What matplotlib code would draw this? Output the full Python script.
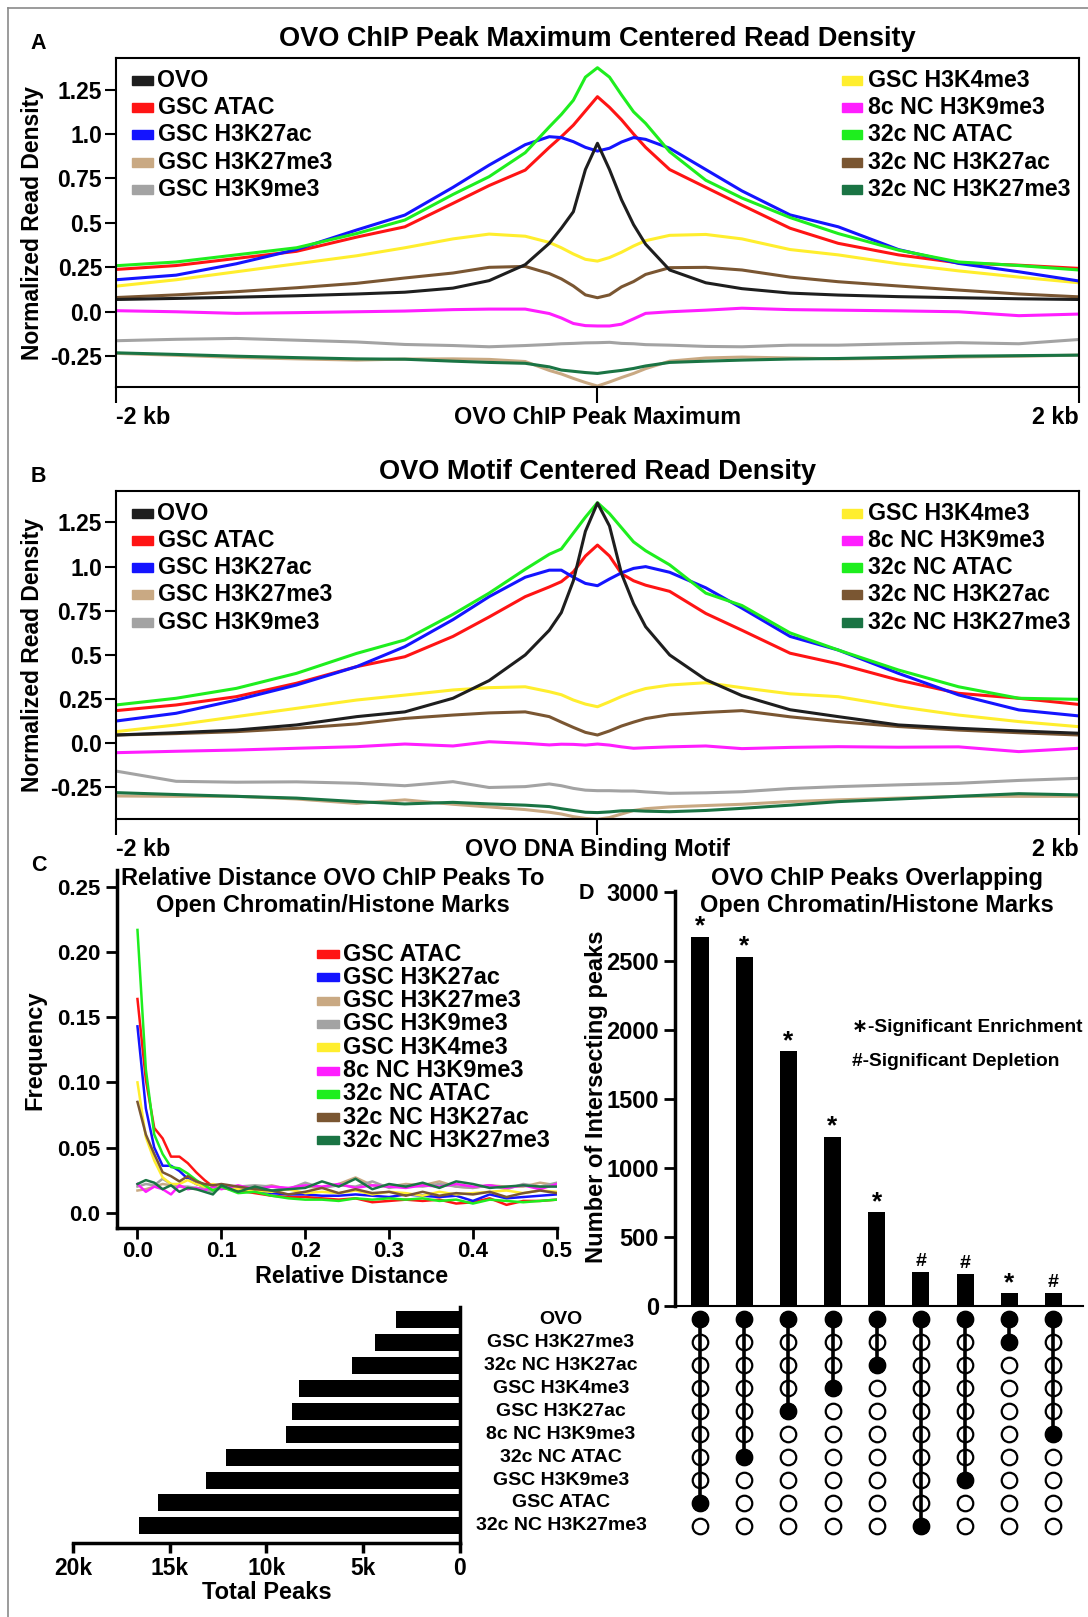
import matplotlib
matplotlib.use('Agg')
import matplotlib.pyplot as plt
from matplotlib.patches import Rectangle
from matplotlib.lines import Line2D
from matplotlib.transforms import blended_transform_factory

plt.rcParams['font.family'] = ['Liberation Sans', 'DejaVu Sans']
plt.rcParams['font.weight'] = 'bold'

W, H = 1088, 1617

COLORS = {
    'OVO': '#1e1e1e',
    'GSC ATAC': '#ff1414',
    'GSC H3K27ac': '#1414ff',
    'GSC H3K27me3': '#c9a983',
    'GSC H3K9me3': '#a3a3a3',
    'GSC H3K4me3': '#ffee2e',
    '8c NC H3K9me3': '#ff1eff',
    '32c NC ATAC': '#1eee1e',
    '32c NC H3K27ac': '#7a5632',
    '32c NC H3K27me3': '#1a7444',
}

# distance from centre, kb
dist_kb = [-2, -1.75, -1.5, -1.25, -1, -0.8, -0.6, -0.45, -0.3, -0.2, -0.15, -0.1, -0.05, 0,
           0.05, 0.1, 0.15, 0.2, 0.3, 0.45, 0.6, 0.8, 1, 1.25, 1.5, 1.75, 2]

# panel A: OVO ChIP peak maximum centred
peak_density = {
    'OVO': [0.069, 0.075, 0.082, 0.09, 0.10, 0.11, 0.133, 0.175, 0.265, 0.385, 0.47, 0.563, 0.80, 0.948,
            0.80, 0.63, 0.49, 0.38, 0.235, 0.163, 0.13, 0.105, 0.094, 0.085, 0.079, 0.073, 0.069],
    'GSC ATAC': [0.238, 0.26, 0.30, 0.34, 0.42, 0.478, 0.61, 0.71, 0.797, 0.925, 0.985, 1.05, 1.13, 1.21,
                 1.15, 1.08, 1.0, 0.925, 0.80, 0.70, 0.60, 0.47, 0.385, 0.32, 0.275, 0.262, 0.244],
    'GSC H3K27ac': [0.18, 0.206, 0.27, 0.35, 0.46, 0.544, 0.70, 0.825, 0.94, 0.985, 0.98, 0.957, 0.925, 0.904,
                    0.92, 0.955, 0.98, 0.97, 0.92, 0.80, 0.68, 0.545, 0.478, 0.35, 0.272, 0.225, 0.173],
    'GSC H3K27me3': [-0.234, -0.245, -0.257, -0.265, -0.272, -0.266, -0.265, -0.268, -0.28, -0.33, -0.35, -0.375,
                     -0.398, -0.418, -0.395, -0.37, -0.347, -0.32, -0.278, -0.26, -0.255, -0.26, -0.265, -0.262,
                     -0.255, -0.25, -0.244],
    'GSC H3K9me3': [-0.163, -0.155, -0.15, -0.16, -0.17, -0.184, -0.19, -0.197, -0.19, -0.184, -0.18, -0.178,
                    -0.175, -0.174, -0.172, -0.178, -0.18, -0.185, -0.188, -0.195, -0.197, -0.188, -0.188, -0.18,
                    -0.174, -0.18, -0.156],
    'GSC H3K4me3': [0.144, 0.18, 0.225, 0.27, 0.315, 0.36, 0.41, 0.437, 0.425, 0.39, 0.36, 0.325, 0.295, 0.285,
                    0.305, 0.335, 0.37, 0.40, 0.43, 0.435, 0.41, 0.35, 0.32, 0.27, 0.23, 0.195, 0.163],
    '8c NC H3K9me3': [0.006, 0.0, -0.009, -0.005, 0.0, 0.004, 0.012, 0.015, 0.015, -0.01, -0.035, -0.066, -0.078,
                      -0.08, -0.08, -0.07, -0.04, -0.009, 0.0, 0.009, 0.02, 0.012, 0.009, 0.005, 0.0, -0.022, -0.013],
    '32c NC ATAC': [0.259, 0.28, 0.32, 0.36, 0.44, 0.516, 0.66, 0.76, 0.895, 1.04, 1.11, 1.19, 1.32, 1.373,
                    1.32, 1.22, 1.125, 1.06, 0.90, 0.74, 0.64, 0.53, 0.44, 0.347, 0.28, 0.26, 0.235],
    '32c NC H3K27ac': [0.08, 0.095, 0.113, 0.135, 0.16, 0.19, 0.218, 0.25, 0.255, 0.215, 0.185, 0.145, 0.095,
                       0.079, 0.095, 0.14, 0.17, 0.21, 0.248, 0.25, 0.235, 0.195, 0.169, 0.145, 0.122, 0.10, 0.084],
    '32c NC H3K27me3': [-0.231, -0.24, -0.25, -0.258, -0.265, -0.267, -0.278, -0.285, -0.29, -0.31, -0.328, -0.335,
                        -0.342, -0.347, -0.338, -0.33, -0.319, -0.305, -0.285, -0.278, -0.272, -0.266, -0.263,
                        -0.257, -0.25, -0.247, -0.244],
}

# panel B: OVO motif centred
motif_density = {
    'OVO': [0.047, 0.06, 0.075, 0.104, 0.151, 0.178, 0.255, 0.355, 0.50, 0.64, 0.74, 0.92, 1.20, 1.36,
            1.23, 0.96, 0.79, 0.66, 0.50, 0.36, 0.27, 0.19, 0.151, 0.104, 0.085, 0.07, 0.057],
    'GSC ATAC': [0.185, 0.217, 0.264, 0.34, 0.434, 0.49, 0.605, 0.715, 0.83, 0.885, 0.915, 0.97, 1.06, 1.122,
                 1.06, 0.96, 0.92, 0.895, 0.86, 0.735, 0.64, 0.51, 0.45, 0.358, 0.283, 0.255, 0.22],
    'GSC H3K27ac': [0.126, 0.17, 0.245, 0.33, 0.434, 0.547, 0.70, 0.83, 0.94, 0.98, 0.98, 0.94, 0.905, 0.892,
                    0.93, 0.965, 0.99, 1.0, 0.968, 0.88, 0.765, 0.605, 0.528, 0.396, 0.274, 0.189, 0.155],
    'GSC H3K27me3': [-0.298, -0.30, -0.30, -0.315, -0.34, -0.32, -0.345, -0.36, -0.375, -0.39, -0.40, -0.415,
                     -0.425, -0.43, -0.42, -0.40, -0.38, -0.37, -0.36, -0.352, -0.345, -0.33, -0.32, -0.31,
                     -0.30, -0.30, -0.30],
    'GSC H3K9me3': [-0.157, -0.215, -0.22, -0.218, -0.226, -0.24, -0.217, -0.25, -0.245, -0.23, -0.24, -0.255,
                    -0.265, -0.268, -0.268, -0.27, -0.27, -0.275, -0.283, -0.28, -0.274, -0.256, -0.245, -0.235,
                    -0.226, -0.21, -0.198],
    'GSC H3K4me3': [0.066, 0.104, 0.151, 0.198, 0.245, 0.273, 0.302, 0.315, 0.32, 0.292, 0.275, 0.245, 0.222,
                    0.207, 0.235, 0.265, 0.29, 0.31, 0.33, 0.343, 0.315, 0.28, 0.264, 0.208, 0.16, 0.123, 0.094],
    '8c NC H3K9me3': [-0.053, -0.045, -0.038, -0.028, -0.019, -0.004, -0.015, 0.009, 0.0, -0.009, -0.005, -0.006,
                      -0.01, -0.004, -0.01, -0.02, -0.028, -0.025, -0.02, -0.015, -0.03, -0.023, -0.019, -0.022,
                      -0.02, -0.047, -0.028],
    '32c NC ATAC': [0.217, 0.255, 0.311, 0.396, 0.509, 0.585, 0.73, 0.85, 0.985, 1.07, 1.10, 1.19, 1.28, 1.362,
                    1.30, 1.22, 1.14, 1.09, 1.01, 0.85, 0.78, 0.625, 0.528, 0.415, 0.32, 0.255, 0.249],
    '32c NC H3K27ac': [0.047, 0.055, 0.066, 0.085, 0.11, 0.141, 0.16, 0.172, 0.178, 0.151, 0.12, 0.09, 0.062,
                       0.047, 0.07, 0.098, 0.12, 0.14, 0.162, 0.175, 0.185, 0.15, 0.123, 0.095, 0.075, 0.06, 0.047],
    '32c NC H3K27me3': [-0.279, -0.29, -0.30, -0.31, -0.33, -0.343, -0.334, -0.343, -0.35, -0.358, -0.37, -0.38,
                        -0.39, -0.392, -0.388, -0.382, -0.381, -0.384, -0.387, -0.38, -0.368, -0.35, -0.33,
                        -0.315, -0.30, -0.285, -0.292],
}

density_ticks = [-0.25, 0.0, 0.25, 0.5, 0.75, 1.0, 1.25]
density_tick_labels = ['-0.25', '0.0', '0.25', '0.5', '0.75', '1.0', '1.25']
legend_left = ['OVO', 'GSC ATAC', 'GSC H3K27ac', 'GSC H3K27me3', 'GSC H3K9me3']
legend_right = ['GSC H3K4me3', '8c NC H3K9me3', '32c NC ATAC', '32c NC H3K27ac', '32c NC H3K27me3']
draw_order = ['GSC H3K9me3', 'GSC H3K27me3', '32c NC H3K27me3', '8c NC H3K9me3', '32c NC H3K27ac',
              'GSC H3K4me3', 'GSC ATAC', 'GSC H3K27ac', '32c NC ATAC', 'OVO']

# panel C: relative distance distribution
rel_dist = [0, 0.01, 0.02, 0.03, 0.04, 0.05, 0.06, 0.07, 0.08, 0.09, 0.10, 0.12, 0.14, 0.16, 0.18, 0.20,
            0.22, 0.24, 0.26, 0.28, 0.30, 0.32, 0.34, 0.36, 0.38, 0.40, 0.42, 0.44, 0.46, 0.48, 0.50]
rel_freq = {
    'GSC ATAC': [0.164, 0.102, 0.065, 0.057, 0.043, 0.043, 0.038, 0.031, 0.025, 0.020, 0.019, 0.017, 0.015,
                 0.013, 0.012, 0.012, 0.011, 0.010, 0.011, 0.008, 0.009, 0.010, 0.009, 0.010, 0.007, 0.008,
                 0.011, 0.006, 0.009, 0.009, 0.010],
    'GSC H3K27ac': [0.143, 0.080, 0.050, 0.036, 0.036, 0.032, 0.026, 0.022, 0.020, 0.018, 0.020, 0.018, 0.017,
                    0.015, 0.014, 0.014, 0.013, 0.013, 0.014, 0.013, 0.012, 0.014, 0.013, 0.012, 0.013, 0.009,
                    0.014, 0.011, 0.012, 0.013, 0.014],
    'GSC H3K27me3': [0.017, 0.018, 0.020, 0.022, 0.021, 0.020, 0.019, 0.018, 0.019, 0.018, 0.019, 0.020, 0.019,
                     0.021, 0.018, 0.020, 0.019, 0.022, 0.027, 0.021, 0.020, 0.022, 0.021, 0.024, 0.020, 0.019,
                     0.021, 0.020, 0.020, 0.023, 0.021],
    'GSC H3K9me3': [0.020, 0.022, 0.021, 0.026, 0.022, 0.020, 0.020, 0.019, 0.018, 0.016, 0.019, 0.020, 0.021,
                    0.020, 0.018, 0.023, 0.019, 0.021, 0.020, 0.024, 0.019, 0.021, 0.020, 0.022, 0.020, 0.019,
                    0.021, 0.018, 0.022, 0.020, 0.023],
    'GSC H3K4me3': [0.100, 0.058, 0.040, 0.027, 0.022, 0.022, 0.025, 0.022, 0.020, 0.022, 0.020, 0.018, 0.017,
                    0.016, 0.018, 0.015, 0.016, 0.015, 0.017, 0.014, 0.016, 0.015, 0.013, 0.016, 0.014, 0.015,
                    0.016, 0.017, 0.015, 0.017, 0.016],
    '8c NC H3K9me3': [0.022, 0.016, 0.020, 0.018, 0.014, 0.021, 0.018, 0.019, 0.017, 0.020, 0.018, 0.021, 0.018,
                      0.020, 0.019, 0.021, 0.020, 0.022, 0.019, 0.021, 0.020, 0.019, 0.021, 0.020, 0.022, 0.020,
                      0.021, 0.019, 0.021, 0.018, 0.022],
    '32c NC ATAC': [0.217, 0.110, 0.060, 0.045, 0.035, 0.034, 0.030, 0.025, 0.021, 0.017, 0.020, 0.015, 0.016,
                    0.013, 0.011, 0.010, 0.010, 0.009, 0.011, 0.010, 0.011, 0.010, 0.011, 0.009, 0.010, 0.007,
                    0.010, 0.009, 0.008, 0.009, 0.010],
    '32c NC H3K27ac': [0.085, 0.060, 0.045, 0.031, 0.028, 0.024, 0.028, 0.024, 0.022, 0.021, 0.022, 0.020, 0.018,
                       0.017, 0.014, 0.016, 0.019, 0.015, 0.018, 0.015, 0.016, 0.013, 0.016, 0.013, 0.015, 0.014,
                       0.016, 0.012, 0.015, 0.017, 0.015],
    '32c NC H3K27me3': [0.022, 0.025, 0.023, 0.018, 0.021, 0.016, 0.019, 0.018, 0.016, 0.014, 0.021, 0.016,
                        0.020, 0.017, 0.018, 0.019, 0.024, 0.020, 0.026, 0.018, 0.022, 0.020, 0.023, 0.019,
                        0.024, 0.022, 0.019, 0.020, 0.021, 0.020, 0.020],
}
freq_ticks = [0.0, 0.05, 0.10, 0.15, 0.20, 0.25]
freq_tick_labels = ['0.0', '0.05', '0.10', '0.15', '0.20', '0.25']
dist_ticks = [0.0, 0.1, 0.2, 0.3, 0.4, 0.5]
dist_tick_labels = ['0.0', '0.1', '0.2', '0.3', '0.4', '0.5']

# panel D: upset plot
matrix_rows = ['OVO', 'GSC H3K27me3', '32c NC H3K27ac', 'GSC H3K4me3', 'GSC H3K27ac', '8c NC H3K9me3',
               '32c NC ATAC', 'GSC H3K9me3', 'GSC ATAC', '32c NC H3K27me3']
total_peaks = [3300, 4400, 5600, 8300, 8700, 9000, 12100, 13100, 15600, 16600]
overlap_with = ['GSC ATAC', '32c NC ATAC', 'GSC H3K27ac', 'GSC H3K4me3', '32c NC H3K27ac',
                '32c NC H3K27me3', 'GSC H3K9me3', 'GSC H3K27me3', '8c NC H3K9me3']
overlap_counts = [2680, 2535, 1850, 1230, 685, 245, 235, 95, 95]
overlap_sig = ['*', '*', '*', '*', '*', '#', '#', '*', '#']
count_ticks = [0, 500, 1000, 1500, 2000, 2500, 3000]
peaks_ticks = [20000, 15000, 10000, 5000, 0]
peaks_tick_labels = ['20k', '15k', '10k', '5k', '0']


fig = plt.figure(figsize=(W / 100, H / 100), dpi=100)


def add_ax(l, t, r, b):
    return fig.add_axes([l / W, 1 - b / H, (r - l) / W, (b - t) / H])


def ftext(x, y, s, **kw):
    kw.setdefault('fontweight', 'bold')
    return fig.text(x / W, 1 - y / H, s, **kw)


def legend_rows(names, sq_l, sq_r, txt_x, y0, dy, size, sq_h=9):
    for i, n in enumerate(names):
        y = y0 + dy * i
        fig.patches.append(Rectangle((sq_l / W, 1 - (y + sq_h / 2) / H), (sq_r - sq_l) / W, sq_h / H,
                                     transform=fig.transFigure, color=COLORS[n]))
        ftext(txt_x, y, n, fontsize=size, va='center', ha='left')


def profile_panel(data, top, bottom, ylim, title, center_label, letter):
    ax = add_ax(115.9, top, 1079, bottom)
    for name in draw_order:
        ax.plot(dist_kb, data[name], color=COLORS[name], lw=2.2, solid_joinstyle='round')
    ax.set_xlim(-2, 2)
    ax.set_ylim(ylim)
    ax.set_xticks([-2, 0, 2])
    ax.set_xticklabels([])
    ax.tick_params(axis='x', length=11.5, width=1.5, direction='out')
    ax.set_yticks(density_ticks)
    ax.set_yticklabels(density_tick_labels)
    ax.tick_params(axis='y', length=8, width=1.5, labelsize=16.5, pad=2)
    for sp in ax.spines.values():
        sp.set_linewidth(1.5)
    lab_y = bottom + 30
    ftext(116, lab_y, '-2 kb', fontsize=16.8, ha='left', va='center')
    ftext(597.5, lab_y, center_label, fontsize=16.8, ha='center', va='center')
    ftext(1079, lab_y, '2 kb', fontsize=16.8, ha='right', va='center')
    ftext(597.5, top - 19, title, fontsize=19.5, ha='center', va='center')
    ftext(38, top - 15, letter, fontsize=15.5, ha='center', va='center')
    ftext(33, (top + bottom) / 2, 'Normalized Read Density', fontsize=16.5, rotation=90,
          ha='center', va='center')
    legend_rows(legend_left, 132, 153, 157.5, top + 22, 27.3, 16.7)
    legend_rows(legend_right, 842, 862, 867.5, top + 22, 27.3, 16.7)
    return ax


profile_panel(peak_density, 58.3, 387.3, (-0.425, 1.426),
              'OVO ChIP Peak Maximum Centered Read Density', 'OVO ChIP Peak Maximum', 'A')
profile_panel(motif_density, 491, 819.3, (-0.43, 1.428),
              'OVO Motif Centered Read Density', 'OVO DNA Binding Motif', 'B')

# panel C
axc = add_ax(116.5, 870, 556.8, 1228.3)
for name in legend_left[1:] + legend_right:
    axc.plot(rel_dist, rel_freq[name], color=COLORS[name], lw=1.8)
axc.set_xlim(-0.025, 0.5)
axc.set_ylim(-0.012, 0.263)
axc.set_xticks(dist_ticks)
axc.set_xticklabels(dist_tick_labels)
axc.set_yticks(freq_ticks)
axc.set_yticklabels(freq_tick_labels)
axc.tick_params(length=8, width=2, labelsize=16)
axc.tick_params(axis='x', pad=1.5)
for s in ['top', 'right']:
    axc.spines[s].set_visible(False)
for s in ['left', 'bottom']:
    axc.spines[s].set_linewidth(2.5)
ftext(39, 865, 'C', fontsize=15.5, ha='center', va='center')
ftext(333, 892, 'Relative Distance OVO ChIP Peaks To\nOpen Chromatin/Histone Marks', fontsize=17,
      ha='center', va='center', linespacing=1.25)
ftext(352, 1276, 'Relative Distance', fontsize=16.8, ha='center', va='center')
ftext(35, 1050, 'Frequency', fontsize=17, rotation=90, ha='center', va='center')
c_legend = ['GSC ATAC', 'GSC H3K27ac', 'GSC H3K27me3', 'GSC H3K9me3', 'GSC H3K4me3', '8c NC H3K9me3',
            '32c NC ATAC', '32c NC H3K27ac', '32c NC H3K27me3']
legend_rows(c_legend, 317, 338.5, 343, 954, 23.3, 16.9, sq_h=8)

# panel D bars
xl = (-0.566, 8.67)
axd = add_ax(675, 891, 1083, 1306.3)
cols = list(range(len(overlap_counts)))
axd.bar(cols, overlap_counts, width=0.385, color='black')
for j, (c, s) in enumerate(zip(overlap_counts, overlap_sig)):
    if s == '*':
        axd.text(j, c - 15, '*', ha='center', va='bottom', fontsize=19)
    else:
        axd.text(j, c + 15, '#', ha='center', va='bottom', fontsize=14)
axd.set_xlim(xl)
axd.set_ylim(0, 3010)
axd.set_xticks([])
axd.set_yticks(count_ticks)
axd.set_yticklabels([str(t) for t in count_ticks])
axd.tick_params(axis='y', length=8, width=2, labelsize=17)
for s in ['top', 'right']:
    axd.spines[s].set_visible(False)
axd.spines['left'].set_linewidth(2.5)
axd.spines['bottom'].set_linewidth(1.5)
ftext(586, 893, 'D', fontsize=15.5, ha='center', va='center')
ftext(876.7, 892, 'OVO ChIP Peaks Overlapping\nOpen Chromatin/Histone Marks', fontsize=17,
      ha='center', va='center', linespacing=1.25)
ftext(596, 1097, 'Number of Intersecting peaks', fontsize=17, rotation=90, ha='center', va='center')
ftext(851.7, 1028, '\u2217-Significant Enrichment', fontsize=13.8, ha='left', va='center')
ftext(851.7, 1062, '#-Significant Depletion', fontsize=13.8, ha='left', va='center')

# upset matrix
row_lim = (9.756, -0.536)
axm = add_ax(675, 1307, 1083, 1543.3)
axm.set_xlim(xl)
axm.set_ylim(row_lim)
axm.axis('off')
for j, other in enumerate(overlap_with):
    k = matrix_rows.index(other)
    axm.scatter([j] * len(matrix_rows), range(len(matrix_rows)), s=125, facecolor='white',
                edgecolor='black', linewidths=1.6, zorder=2)
    axm.plot([j, j], [0, k], color='black', lw=2.6, zorder=3)
    axm.scatter([j, j], [0, k], s=125, color='black', zorder=4)
trans = blended_transform_factory(fig.transFigure, axm.transData)
for i, name in enumerate(matrix_rows):
    axm.text(561 / W, i, name, transform=trans, ha='center', va='center', fontsize=14,
             fontweight='bold', clip_on=False)

# total peaks
axt = add_ax(72.9, 1307, 460, 1543.3)
axt.barh(range(len(matrix_rows)), total_peaks, height=0.74, color='black')
axt.set_xlim(20000, 0)
axt.set_ylim(row_lim)
axt.set_yticks([])
axt.set_xticks(peaks_ticks)
axt.set_xticklabels(peaks_tick_labels)
axt.tick_params(axis='x', length=7, width=2.5, labelsize=16.5, pad=3)
for s in ['top', 'left']:
    axt.spines[s].set_visible(False)
for s in ['right', 'bottom']:
    axt.spines[s].set_linewidth(2.5)
ftext(267, 1592, 'Total Peaks', fontsize=17, ha='center', va='center')

# outer frame
fig.add_artist(Line2D([8 / W, 8 / W], [1 - 8 / H, 0], transform=fig.transFigure, color='#8a8a8a', lw=1.2))
fig.add_artist(Line2D([8 / W, 1], [1 - 8 / H, 1 - 8 / H], transform=fig.transFigure, color='#8a8a8a', lw=1.2))

fig.savefig('out.png', dpi=100)
